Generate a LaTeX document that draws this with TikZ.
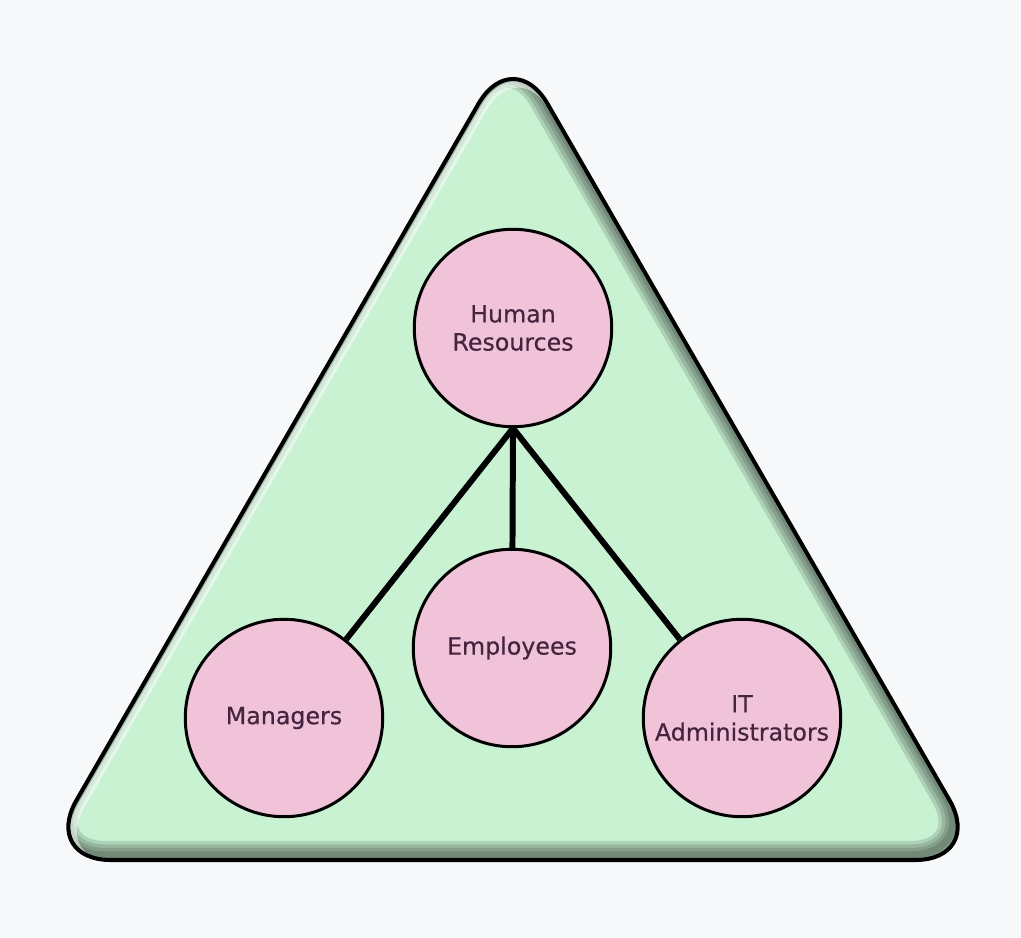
\documentclass[tikz,border=0pt]{standalone}
\usepackage{fontspec}
\setmainfont{DejaVu Sans}
\newfontfamily\rolefont[FakeBold=0.4]{DejaVu Sans}
\usetikzlibrary{positioning}
\definecolor{pagebg}{HTML}{F7F8F9}
\definecolor{trigreen}{HTML}{C9F2D3}
\definecolor{rolepink}{HTML}{F0C3D8}
\definecolor{roletext}{HTML}{45243F}
\newcommand{\trianglepath}{(513,860) -- (984,860) -- (513,44) -- (42,860) -- cycle}

\begin{document}
\begin{tikzpicture}[x=0.02cm, y=-0.02cm,
    role/.style={circle, draw=black, line width=1.7pt, fill=rolepink, minimum size=3.95cm,
      inner sep=0pt, align=center, text=roletext, font=\rolefont\fontsize{13.5}{16}\selectfont},
    link/.style={line width=3.4pt},
    corner/.style={rounded corners=1.38cm}]
  \fill[pagebg] (0,0) rectangle (1021,937);
  \useasboundingbox (0,0) rectangle (1021,937);

  % green triangle with a soft inner shadow at the lower right
  \fill[trigreen, corner] \trianglepath;
  \begin{scope}
    \clip[corner] \trianglepath;
    \foreach \w in {4,8,12,16}
      \draw[black, opacity=0.13, line width=\w pt, corner, shift={(-5,-5)}] \trianglepath;
    \draw[white, opacity=0.5, line width=4pt, corner, shift={(5,5)}] \trianglepath;
  \end{scope}
  \draw[line width=2.3pt, corner] \trianglepath;

  \node[role] (HR) at (513,328) {Human\\Resources};
  \node[role] (Mgr) at (284,718) {Managers};
  \node[role] (Emp) at (512,648) {Employees};
  \node[role] (IT) at (742,718) {IT\\Administrators};

  \draw[link] (HR.south) -- (Mgr);
  \draw[link] (HR.south) -- (Emp);
  \draw[link] (HR.south) -- (IT);
\end{tikzpicture}
\end{document}
